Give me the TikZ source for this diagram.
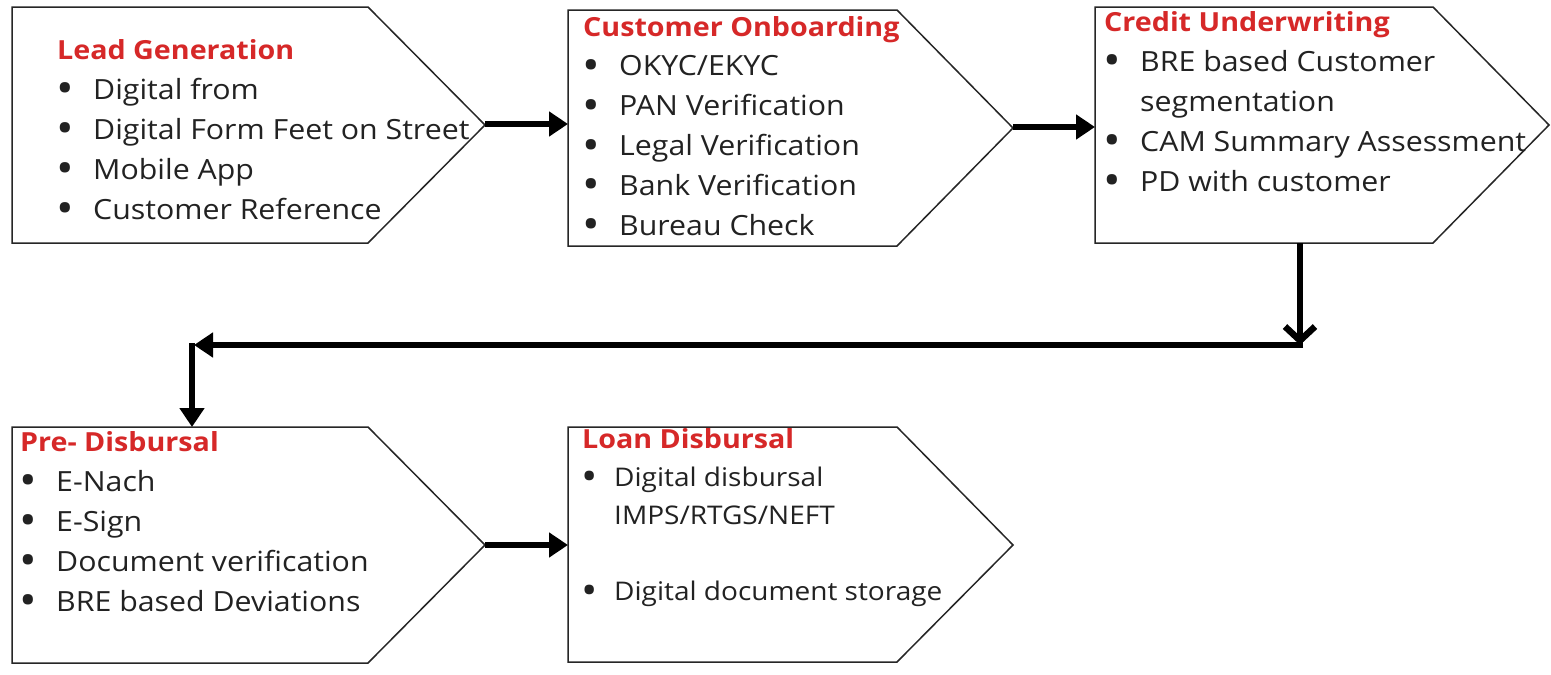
\documentclass[tikz,border=0pt]{standalone}
\usepackage{fontspec}
\usepackage{graphicx}
\setmainfont{Open Sans}[FakeStretch=1.09]
\usetikzlibrary{arrows.meta}
\definecolor{hdr}{RGB}{214,40,40}
\definecolor{txt}{RGB}{34,34,34}
\newlength{\bw}
\setlength{\bw}{36pt}
\newcommand{\ttl}[1]{\hbox{\color{hdr}\fontsize{26.3}{40}\selectfont\bfseries #1}}
\newcommand{\dotb}{\raisebox{-0.17em}{\scalebox{1.55}{•}}}
\newcommand{\itm}[1]{\hbox{\makebox[\bw][l]{\hspace{-1pt}\dotb}#1}}
\newcommand{\cnt}[1]{\hbox{\hspace{\bw}#1}}
\newcommand{\blk}[2]{\vtop{\baselineskip=#1\lineskiplimit=-1000pt #2}}
\tikzset{
  stage/.style={draw=black!85, line width=1.5pt, fill=white, line join=miter},
  txtblk/.style={anchor=base west, inner sep=0pt, text=txt, font=\fontsize{27.8}{40}\selectfont},
  flow/.style={line width=6pt, -{Triangle[length=19pt,width=24pt]}},
  barb/.style={line width=6.5pt, -{Straight Barb[length=14pt,width=30pt,line width=6.5pt]}},
  seg/.style={line width=5.5pt}
}
\begin{document}
\begin{tikzpicture}[x=1pt,y=-1pt]
\useasboundingbox (0,0) rectangle (1551,675);
\fill[white] (0,0) rectangle (1551,675);

% stage shapes
\draw[stage] (12,7) -- (368,7) -- (485,125) -- (368,243) -- (12,243) -- cycle;
\draw[stage] (568,10) -- (897,10) -- (1013,128) -- (897,246) -- (568,246) -- cycle;
\draw[stage] (1095,7) -- (1433,7) -- (1549,125) -- (1433,243) -- (1095,243) -- cycle;
\draw[stage] (12,427) -- (368,427) -- (485,545) -- (368,663) -- (12,663) -- cycle;
\draw[stage] (568,427) -- (897,427) -- (1013,545) -- (897,662) -- (568,662) -- cycle;

% connection points
\coordinate (s1out) at (485,124);
\coordinate (s2in) at (568,124);
\coordinate (s2out) at (1013,127);
\coordinate (s3in) at (1095,127);
\coordinate (s3bot) at (1300,243);
\coordinate (turnR) at (1300,345);
\coordinate (turnRs) at (1303,345);
\coordinate (turnL) at (194,345);
\coordinate (turnLv) at (192,343);
\coordinate (s4top) at (192,427);
\coordinate (s4out) at (485,545);
\coordinate (s5in) at (568,545);

% text blocks
\node[txtblk] (t1) at (57,59) {\blk{40pt}{%
  \ttl{Lead Generation}
  \itm{Digital from}
  \itm{Digital Form Feet on Street}
  \itm{Mobile App}
  \itm{Customer Reference}}};
\node[txtblk] (t2) at (583,36) {\blk{39.8pt}{%
  \ttl{Customer Onboarding}
  \itm{OKYC/EKYC}
  \itm{PAN Verification}
  \itm{Legal Verification}
  \itm{Bank Verification}
  \itm{Bureau Check}}};
\node[txtblk] (t3) at (1104,31) {\blk{40pt}{%
  \ttl{Credit Underwriting}
  \itm{BRE based Customer}
  \cnt{segmentation}
  \itm{CAM Summary Assessment}
  \itm{PD with customer}}};
\node[txtblk] (t4) at (20,451) {\blk{40pt}{%
  \ttl{Pre- Disbursal}
  \itm{E-Nach}
  \itm{E-Sign}
  \itm{Document verification}
  \itm{BRE based Deviations}}};
\setlength{\bw}{32pt}
\node[txtblk, font=\fontsize{25.7}{38}\selectfont] (t5) at (582,448) {\blk{38pt}{%
  \ttl{Loan Disbursal}
  \itm{Digital disbursal}
  \cnt{IMPS/RTGS/NEFT}
  \hbox{}
  \itm{Digital document storage}}};

% connectors
\draw[flow] (s1out) -- (s2in);
\draw[flow] (s2out) -- (s3in);
\draw[barb] (s3bot) -- (turnR);
\draw[seg, -{Triangle[length=19pt,width=24pt]}] (turnRs) -- (turnL);
\draw[flow] (turnLv) -- (s4top);
\draw[flow] (s4out) -- (s5in);
\end{tikzpicture}
\end{document}
